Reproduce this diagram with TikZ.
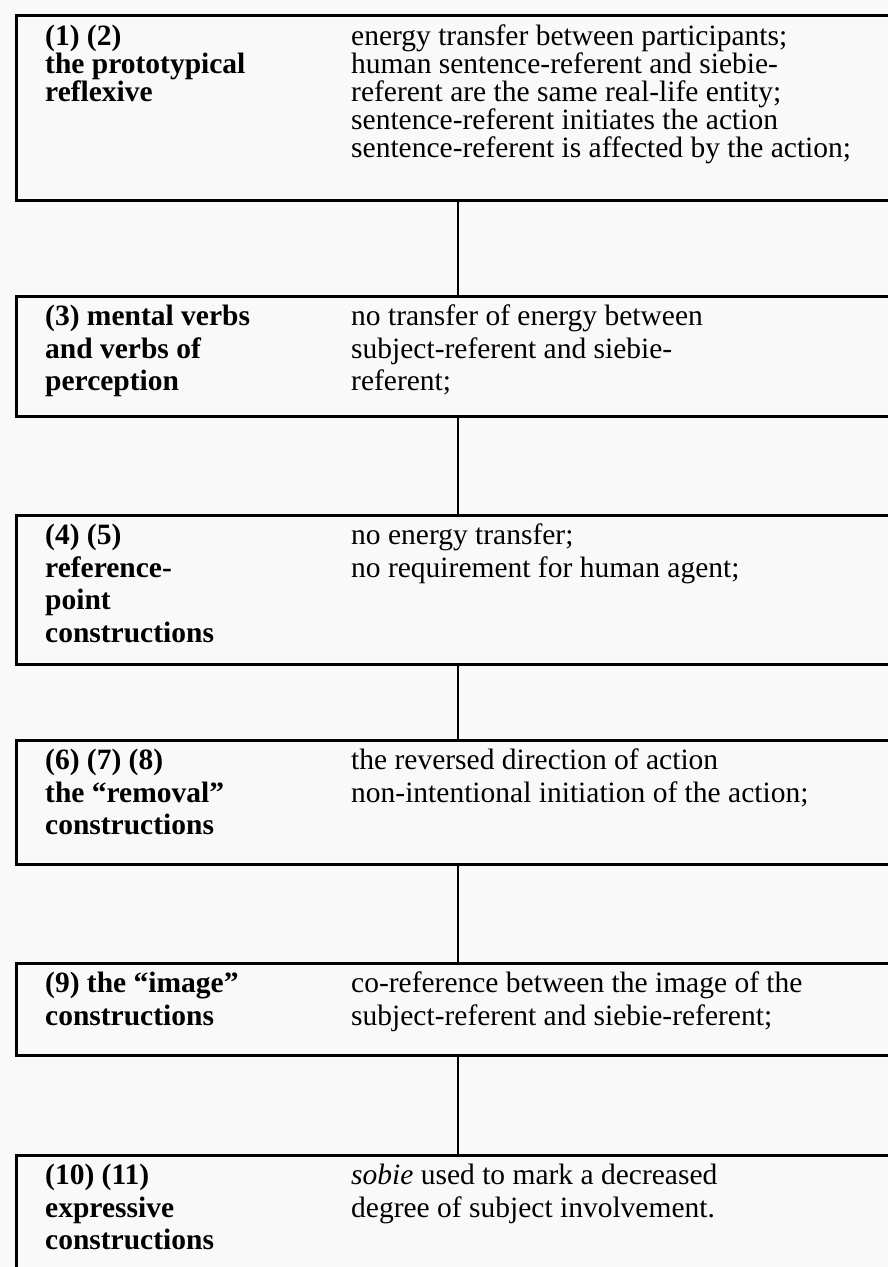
\documentclass[tikz,border=0pt]{standalone}
\usepackage{fontspec}
\setmainfont{Liberation Serif}
\begin{document}
\begin{tikzpicture}[x=1pt,y=-1pt,
  box/.style={draw=black, line width=2.8pt, rectangle, anchor=north west, inner sep=0pt, minimum width=900pt},
  lbl/.style={anchor=north west, align=left, inner sep=0pt, font=\fontsize{29.5}{32.5}\selectfont\bfseries},
  desc/.style={anchor=north west, align=left, inner sep=0pt, font=\fontsize{29.5}{32.5}\selectfont},
  tightlbl/.style={lbl, font=\fontsize{29.5}{28}\selectfont\bfseries},
  tightdesc/.style={desc, font=\fontsize{29.5}{28}\selectfont},
  link/.style={draw=black, line width=2pt}]
\useasboundingbox (0,0) rectangle (888,1267);
\fill[gray!5] (0,0) rectangle (888,1267);
\clip (0,0) rectangle (888,1267);
\coordinate (cx) at (458,0);

\node[box, minimum height=185pt] (b1) at (15,14) {};
\node[box, minimum height=120pt] (b2) at (15,295) {};
\node[box, minimum height=149pt] (b3) at (15,514) {};
\node[box, minimum height=124pt] (b4) at (15,739) {};
\node[box, minimum height=92pt] (b5) at (15,962) {};
\node[box, minimum height=140pt] (b6) at (15,1154) {};

\node[tightlbl] (l1) at (45,25) {(1) (2)\\the prototypical\\reflexive};
\node[tightdesc] (r1) at (351,25) {energy transfer between participants;\\human sentence-referent and siebie-\\referent are the same real-life entity;\\sentence-referent initiates the action\\sentence-referent is affected by the action;};

\node[lbl] (l2) at (45,305) {(3) mental verbs\\and verbs of\\perception};
\node[desc] (r2) at (351,305) {no transfer of energy between\\subject-referent and siebie-\\referent;};

\node[lbl] (l3) at (45,524) {(4) (5)\\reference-\\point\\constructions};
\node[desc] (r3) at (351,524) {no energy transfer;\\no requirement for human agent;};

\node[lbl] (l4) at (45,749) {(6) (7) (8)\\the “removal”\\constructions};
\node[desc] (r4) at (351,749) {the reversed direction of action\\non-intentional initiation of the action;};

\node[lbl] (l5) at (45,972) {(9) the “image”\\constructions};
\node[desc] (r5) at (351,972) {co-reference between the image of the\\subject-referent and siebie-referent;};

\node[lbl] (l6) at (45,1164) {(10) (11)\\expressive\\constructions};
\node[desc] (r6) at (351,1164) {\textit{sobie} used to mark a decreased\\degree of subject involvement.};

\draw[link] (b1.south -| cx) -- (b2.north -| cx);
\draw[link] (b2.south -| cx) -- (b3.north -| cx);
\draw[link] (b3.south -| cx) -- (b4.north -| cx);
\draw[link] (b4.south -| cx) -- (b5.north -| cx);
\draw[link] (b5.south -| cx) -- (b6.north -| cx);
\end{tikzpicture}
\end{document}
